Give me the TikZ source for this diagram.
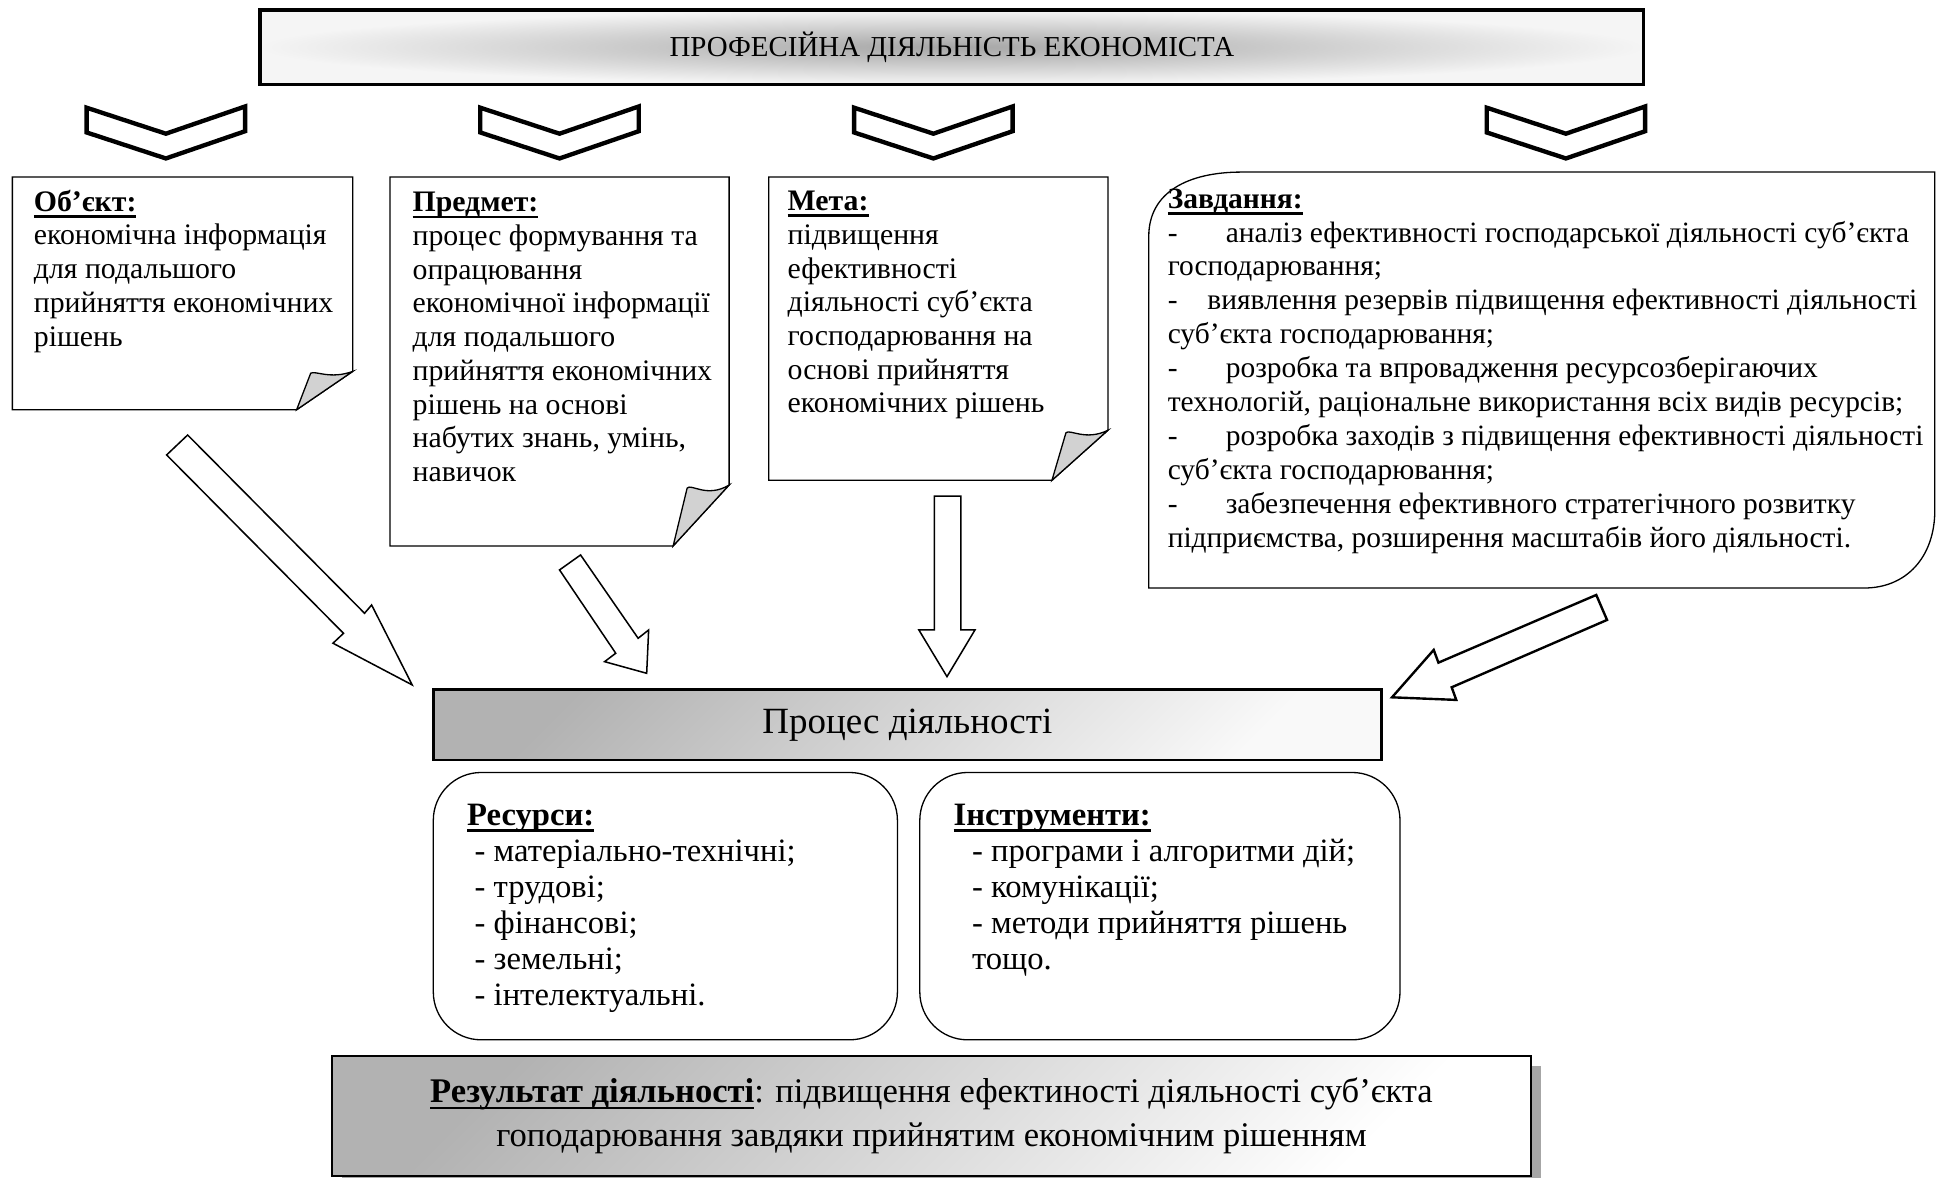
\documentclass[tikz,border=0pt]{standalone}
\usepackage{fontspec}
\setmainfont{Liberation Serif}
\usepackage{tikz}
\usetikzlibrary{positioning,calc,shadows}

% bold heading with a heavy underline
\newcommand{\hdu}[1]{\setbox0\hbox{\textbf{#1}}\rlap{\rule[-3pt]{\wd0}{1.3pt}}\box0}
% dash followed by a tab
\newcommand{\dtab}[1]{\makebox[#1][l]{-}}

\begin{document}
\begin{tikzpicture}[x=0.02cm, y=-0.02cm]
    \tikzstyle{txt} = [anchor=north west, inner sep=0pt, align=left,
               font=\fontsize{13.7}{15.5}\selectfont]
    \tikzstyle{page} = [draw, line width=0.6pt, fill=white]
    \tikzstyle{curl} = [draw, line width=0.6pt, fill=gray!35]
    \tikzstyle{chev} = [draw, line width=2pt, fill=white, line join=miter]
    \tikzstyle{fat} = [draw, line width=0.7pt, fill=white, line join=miter]
    \tikzstyle{roundbox} = [draw, line width=0.6pt, rounded corners=22pt,
               inner sep=0pt]

    \useasboundingbox (0,0) rectangle (1568,951);

    % Title
    \node [draw, line width=1.5pt, minimum width=22.36cm, minimum height=1.2cm,
      shading=radial, inner color=gray!70, outer color=gray!8,
      font=\fontsize{13.3}{15}\selectfont] (title) at (769,38)
      {ПРОФЕСІЙНА ДІЯЛЬНІСТЬ ЕКОНОМІСТА};

    % Chevrons under the title
    \foreach \cx in {134,452,754,1265}
      \draw [chev] (\cx-64,87) -- (\cx,108) -- (\cx+64,86) -- (\cx+64,106)
        -- (\cx,128) -- (\cx-64,107) -- cycle;

    % Notes with a folded corner
    \foreach \xa/\ya/\xb/\yb in {10/143/285/331, 315/143/589/441, 621/143/895/388} {
      \pgfmathsetmacro{\fx}{\xb-0.165*(\xb-\xa)}
      \pgfmathsetmacro{\fy}{\yb-0.165*(\yb-\ya)}
      \pgfmathsetmacro{\fw}{\xb-\fx}
      \pgfmathsetmacro{\fh}{\yb-\fy}
      \draw [page] (\xa,\ya) -- (\xb,\ya) -- (\xb,\fy) -- (\fx,\yb) -- (\xa,\yb) -- cycle;
      \draw [curl] (\fx,\yb) -- (\fx+0.25*\fw,\fy+0.05*\fh)
        .. controls (\fx+0.32*\fw,\fy-0.03*\fh) and (\fx+0.6*\fw,\fy+0.22*\fh) .. (\xb,\fy) -- cycle;
    }

    \node [txt] (objtxt) at (27,153) {\hdu{Об’єкт:}\\економічна інформація\\для подальшого\\прийняття економічних\\рішень};
    \node [txt] (subjtxt) at (333,155) {\hdu{Предмет:}\\процес формування та\\опрацювання\\економічної інформації\\для подальшого\\прийняття економічних\\рішень на основі\\набутих знань, умінь,\\навичок};
    \node [txt] (goaltxt) at (636,154) {\hdu{Мета:}\\підвищення\\ефективності\\діяльності суб’єкта\\господарювання на\\основі прийняття\\економічних рішень};

    % Tasks
    \draw [page] (928,475) -- (928,191) .. controls (928,155) and (960,139) .. (1003,139)
      -- (1563,139) -- (1563,412) .. controls (1563,450) and (1540,475) .. (1506,475) -- cycle;
    \node [txt, font=\fontsize{13.55}{15.6}\selectfont] (tasktxt) at (943,152) {\hdu{Завдання:}\\
      \dtab{26.7pt}аналіз ефективності господарської діяльності суб’єкта\\
      господарювання;\\
      \dtab{18.2pt}виявлення резервів підвищення ефективності діяльності\\
      суб’єкта господарювання;\\
      \dtab{26.7pt}розробка та впровадження ресурсозберігаючих\\
      технологій, раціональне використання всіх видів ресурсів;\\
      \dtab{26.7pt}розробка заходів з підвищення ефективності діяльності\\
      суб’єкта господарювання;\\
      \dtab{26.7pt}забезпечення ефективного стратегічного розвитку\\
      підприємства, розширення масштабів його діяльності.};

    % Hollow arrows into the process
    \draw [fat] (151.6,351.4) -- (294.5,495.4) -- (300.2,488.7) -- (333,553.3)
      -- (269,519.6) -- (277.5,511.6) -- (134.6,367.5) -- cycle;
    \draw [fat] (469,448.3) -- (515.5,515.6) -- (524,508.9) -- (522.4,543.9)
      -- (488.4,534.5) -- (497.4,527.7) -- (452,460.4) -- cycle;
    \draw [fat] (754.8,400.7) -- (776.3,400.7) -- (776.3,508.9) -- (787.6,508.9)
      -- (765,546.6) -- (742.3,508.9) -- (754.8,508.9) -- cycle;
    \draw [fat, line width=1.1pt] (1289.5,480.6) -- (1162,535.3) -- (1158.2,525) -- (1124.5,563.3)
      -- (1176.4,565.4) -- (1172.7,555.2) -- (1298.2,500.8) -- cycle;

    % Process
    \node [draw, line width=1.2pt, minimum width=15.32cm, minimum height=1.14cm,
      top color=gray!60, bottom color=gray!5, shading angle=45,
      font=\fontsize{17}{20}\selectfont] (proc) at (733,585.5) {Процес діяльності};

    \node [roundbox, minimum width=7.5cm, minimum height=4.32cm] (resbox) at (537.5,732) {};
    \node [roundbox, minimum width=7.76cm, minimum height=4.32cm] (toolbox) at (937,732) {};
    \node [txt, font=\fontsize{15}{16.6}\selectfont] (restxt) at (377,649)
      {\hdu{Ресурси:}\\\hspace{3.5pt}- матеріально-технічні;\\\hspace{3.5pt}- трудові;\\\hspace{3.5pt}- фінансові;\\\hspace{3.5pt}- земельні;\\\hspace{3.5pt}- інтелектуальні.};
    \node [txt, font=\fontsize{15}{16.6}\selectfont] (tooltxt) at (770,649)
      {\hdu{Інструменти:}\\\hspace{8.5pt}- програми і алгоритми дій;\\\hspace{8.5pt}- комунікації;\\\hspace{8.5pt}- методи прийняття рішень\\\hspace{8.5pt}тощо.};

    % Result
    \node [draw, line width=1.2pt, minimum width=19.38cm, minimum height=1.94cm,
      top color=gray!60, bottom color=white, shading angle=45,
      drop shadow={shadow xshift=4.5pt, shadow yshift=-4.5pt, fill=gray!70, opacity=1},
      align=center, font=\fontsize{15.9}{20}\selectfont] (result) at (752.5,901.5)
      {\hdu{Результат діяльності}: підвищення ефектиності діяльності суб’єкта\\
       гоподарювання завдяки прийнятим економічним рішенням};

\end{tikzpicture}
\end{document}
